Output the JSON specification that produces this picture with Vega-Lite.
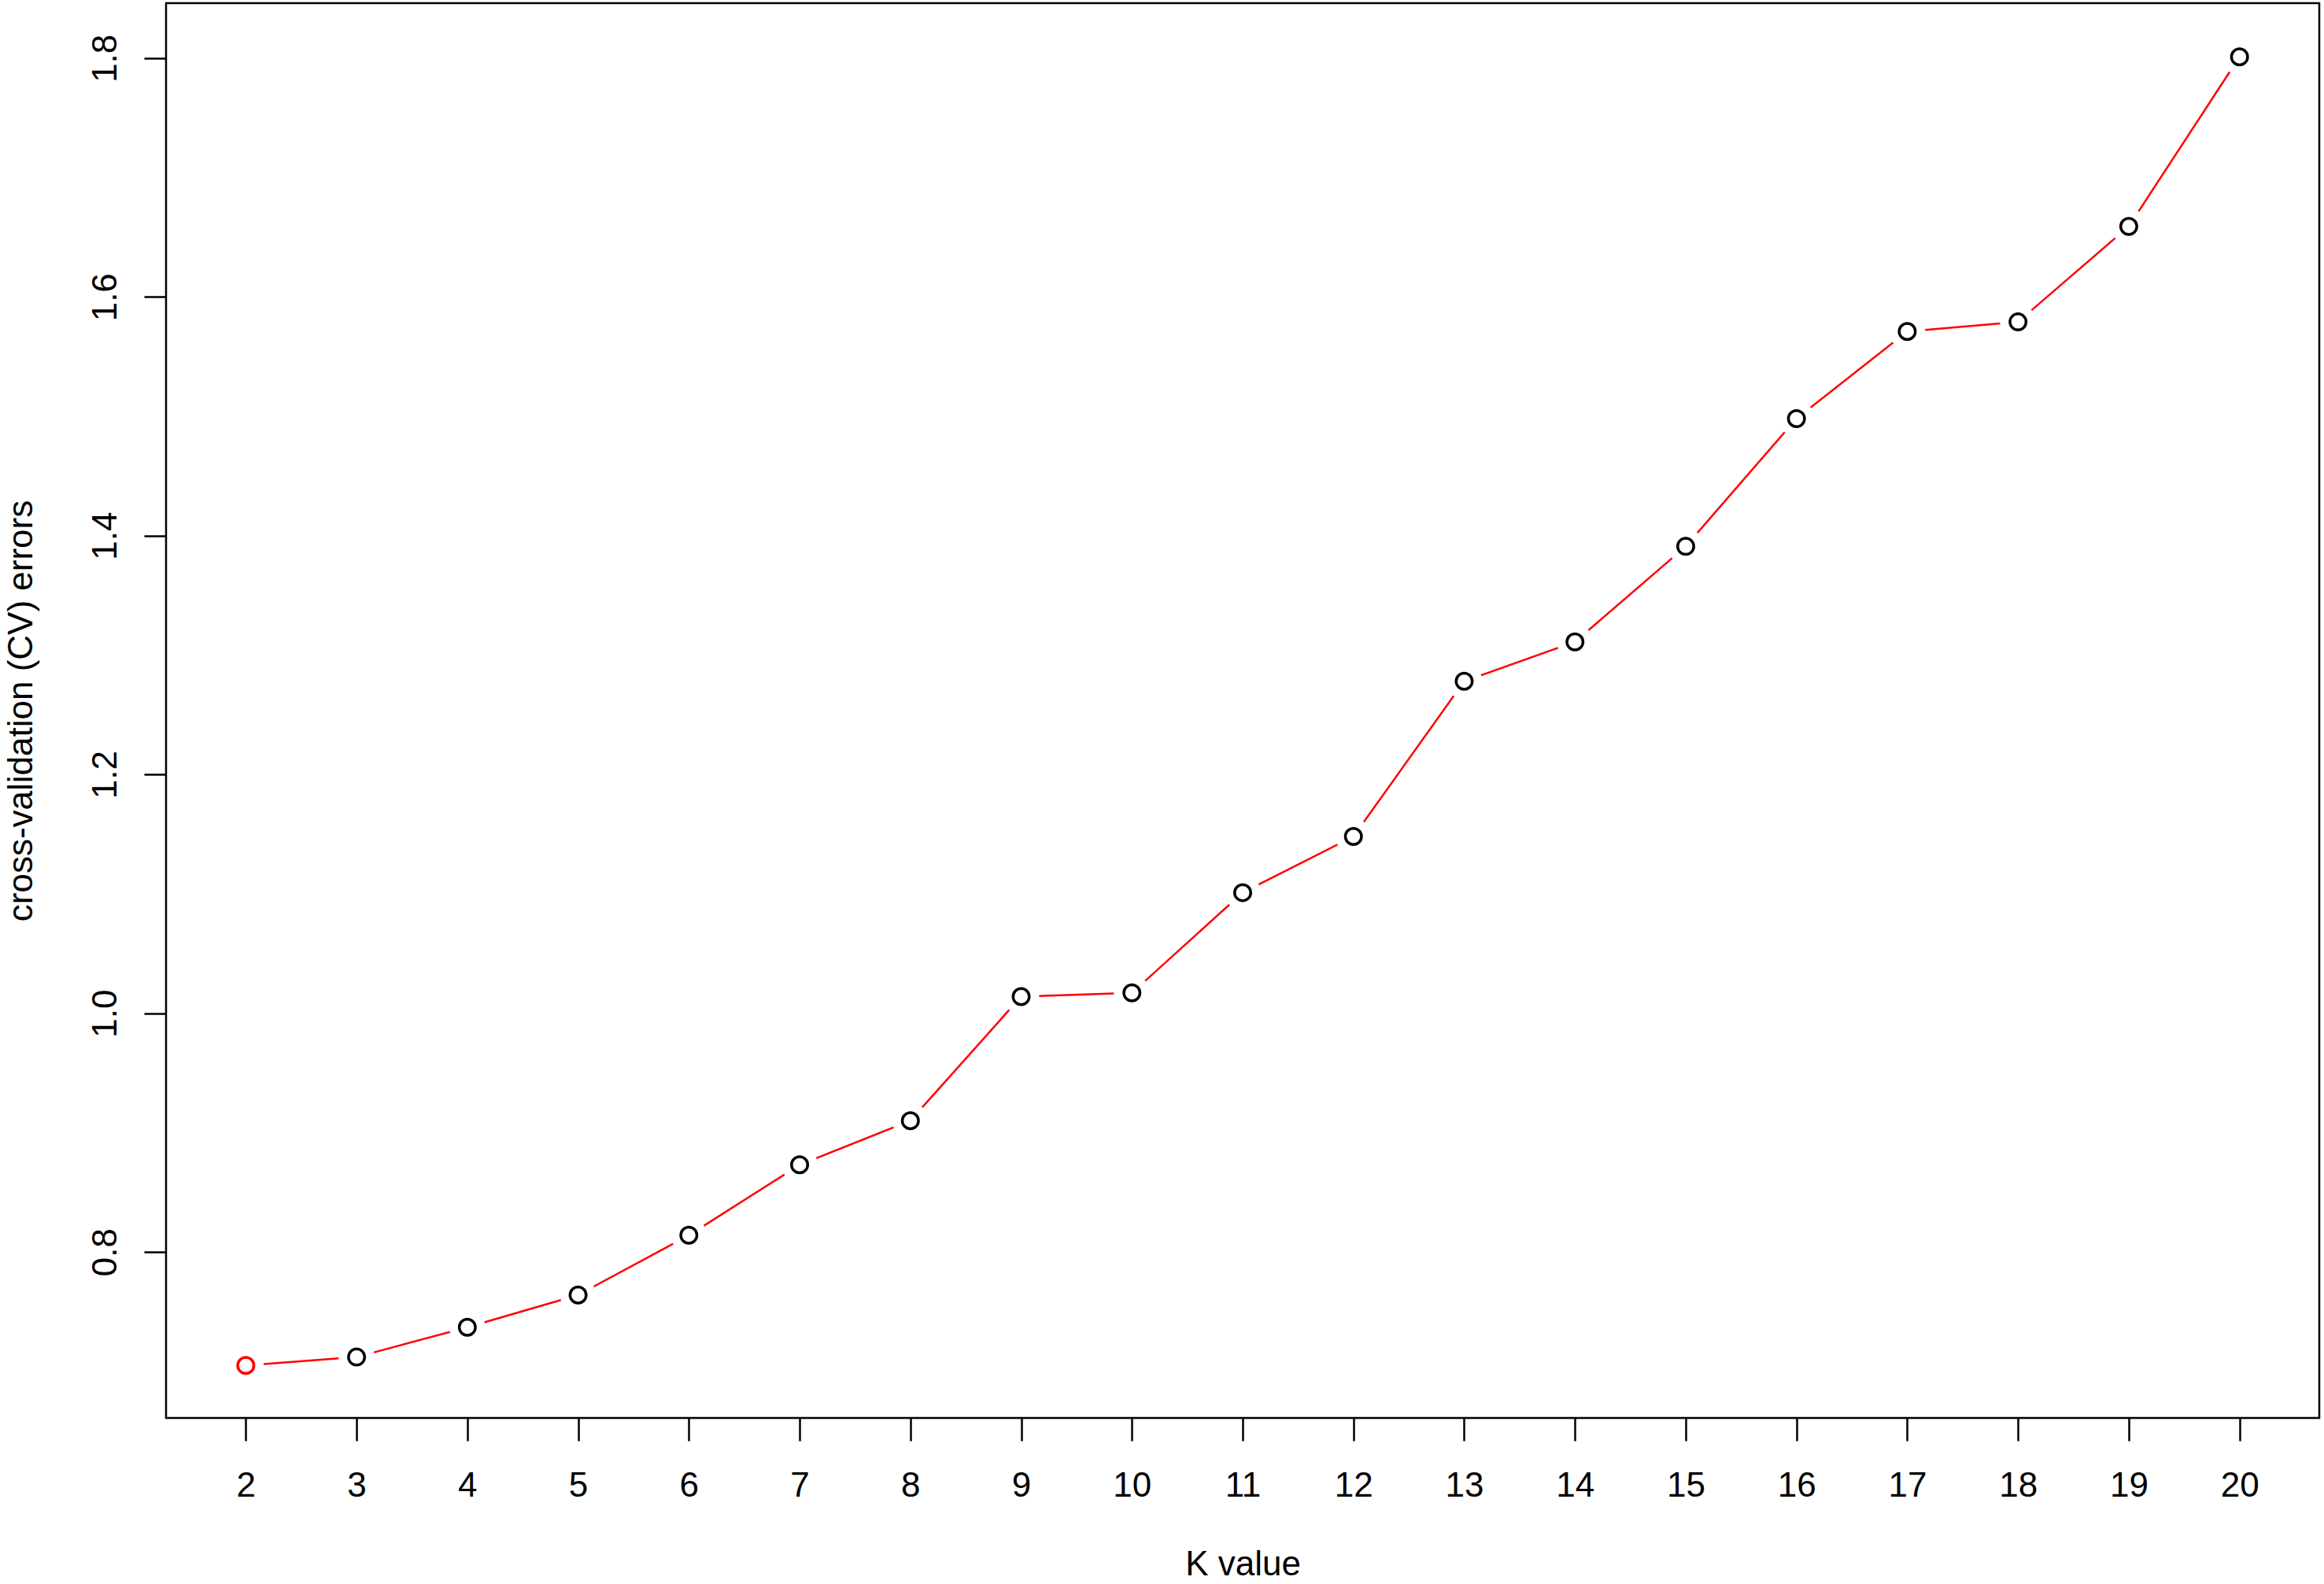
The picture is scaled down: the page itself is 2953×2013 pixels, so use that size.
{
  "$schema": "https://vega.github.io/schema/vega-lite/v6.json",
  "width": 2736,
  "height": 1798,
  "autosize": {"type": "none"},
  "padding": {"left": 211, "top": 4, "right": 6, "bottom": 211},
  "background": "white",
  "config": {
    "view": {"stroke": "#000000", "strokeWidth": 2.5},
    "font": "Liberation Sans"
  },
  "data": {
    "values": [
      {"k": 2, "cv": 0.705},
      {"k": 3, "cv": 0.712},
      {"k": 4, "cv": 0.737},
      {"k": 5, "cv": 0.764},
      {"k": 6, "cv": 0.814},
      {"k": 7, "cv": 0.873},
      {"k": 8, "cv": 0.910},
      {"k": 9, "cv": 1.014},
      {"k": 10, "cv": 1.017},
      {"k": 11, "cv": 1.101},
      {"k": 12, "cv": 1.148},
      {"k": 13, "cv": 1.278},
      {"k": 14, "cv": 1.311},
      {"k": 15, "cv": 1.391},
      {"k": 16, "cv": 1.498},
      {"k": 17, "cv": 1.571},
      {"k": 18, "cv": 1.579},
      {"k": 19, "cv": 1.659},
      {"k": 20, "cv": 1.801}
    ]
  },
  "encoding": {
    "x": {
      "field": "k",
      "type": "quantitative",
      "scale": {"domain": [1.28, 20.72], "nice": false, "zero": false},
      "axis": {
        "values": [2, 3, 4, 5, 6, 7, 8, 9, 10, 11, 12, 13, 14, 15, 16, 17, 18, 19, 20],
        "format": "d",
        "grid": false,
        "domain": false,
        "tickSize": 29,
        "tickWidth": 2.5,
        "tickColor": "#000000",
        "labelFontSize": 44,
        "labelColor": "#000000",
        "labelPadding": 35,
        "labelFlush": false,
        "labelOverlap": false,
        "title": "K value",
        "titleFontSize": 44,
        "titleFontWeight": "normal",
        "titleColor": "#000000",
        "titlePadding": 56
      }
    },
    "y": {
      "field": "cv",
      "type": "quantitative",
      "scale": {"domain": [0.661, 1.846], "nice": false, "zero": false},
      "axis": {
        "values": [0.8, 1.0, 1.2, 1.4, 1.6, 1.8],
        "format": ".1f",
        "grid": false,
        "domain": false,
        "tickSize": 28,
        "tickWidth": 2.5,
        "tickColor": "#000000",
        "labelFontSize": 44,
        "labelColor": "#000000",
        "labelAngle": -90,
        "labelAlign": "center",
        "labelBaseline": "alphabetic",
        "labelPadding": 36,
        "labelFlush": false,
        "labelOverlap": false,
        "title": "cross-validation (CV) errors",
        "titleFontSize": 44,
        "titleFontWeight": "normal",
        "titleColor": "#000000",
        "titlePadding": 63
      }
    }
  },
  "layer": [
    {"mark": {"type": "line", "color": "#ff0000", "strokeWidth": 2.5}},
    {"mark": {"type": "point", "shape": "circle", "filled": true, "fill": "#ffffff", "strokeWidth": 0, "size": 2100, "opacity": 1}},
    {
      "mark": {"type": "point", "shape": "circle", "filled": false, "size": 420, "strokeWidth": 3.5, "opacity": 1},
      "encoding": {
        "color": {"condition": {"test": "datum.k == 2", "value": "#ff0000"}, "value": "#000000"}
      }
    }
  ]
}
